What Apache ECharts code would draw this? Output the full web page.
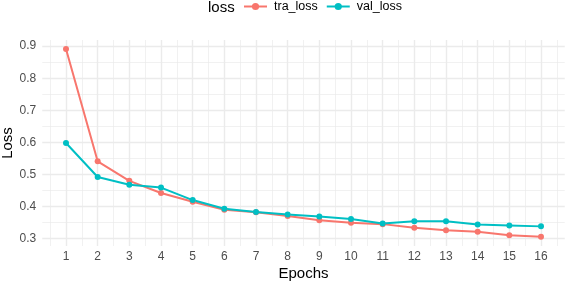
<!DOCTYPE html>
<html>
<head>
<meta charset="utf-8">
<script src="https://cdn.jsdelivr.net/npm/echarts@6/dist/echarts.min.js"></script>
<style>html,body{margin:0;padding:0;background:#fff}#c{width:565px;height:283px}</style>
</head>
<body>
<div id="c"></div>
<script>
var epochs = [1,2,3,4,5,6,7,8,9,10,11,12,13,14,15,16];
var traLoss = [0.891,0.541,0.480,0.442,0.415,0.390,0.382,0.370,0.357,0.349,0.345,0.334,0.326,0.321,0.310,0.306];
var valLoss = [0.598,0.492,0.468,0.459,0.420,0.393,0.383,0.375,0.369,0.361,0.347,0.354,0.354,0.344,0.341,0.338];
var xTicks = [1,2,3,4,5,6,7,8,9,10,11,12,13,14,15,16];
var xMinor = [0.5,1.5,2.5,3.5,4.5,5.5,6.5,7.5,8.5,9.5,10.5,11.5,12.5,13.5,14.5,15.5,16.5];
var yTicks = [0.3,0.4,0.5,0.6,0.7,0.8,0.9];
var yMinor = [0.35,0.45,0.55,0.65,0.75,0.85];

var FONT = 'Liberation Sans';
var grid = '#ebebeb';
function pairs(xs, ys){ return xs.map(function(x,i){ return [x, ys[i]]; }); }

var chart = echarts.init(document.getElementById('c'));
chart.setOption({
  animation: false,
  textStyle: {fontFamily: FONT},
  title: {text: 'loss', left: 208, top: 0, padding: 0, textStyle: {fontFamily: FONT, fontSize: 15, fontWeight: 'normal', color: '#000'}},
  legend: {
    left: 243, top: 0, padding: 0, itemWidth: 23, itemHeight: 9, itemGap: 8,
    textStyle: {fontFamily: FONT, fontSize: 12.5, color: '#000', padding: [0,0,0,2]},
    data: ['tra_loss','val_loss']
  },
  grid: {left: 42.25, right: 0.25, top: 40, bottom: 37, outerBoundsMode: 'none', containLabel: false},
  xAxis: [{
    type: 'value', min: 0.25, max: 16.75,
    name: 'Epochs', nameLocation: 'middle', nameGap: 20, nameMoveOverlap: false,
    nameTextStyle: {fontFamily: FONT, fontSize: 15, color: '#000'},
    axisLine: {show: false},
    axisTick: {show: false, customValues: xTicks},
    axisLabel: {customValues: xTicks, fontFamily: FONT, fontSize: 12, color: '#4d4d4d', margin: 5},
    splitLine: {show: true, lineStyle: {color: grid, width: 1.4}}
  },{
    type: 'value', min: 0.25, max: 16.75, position: 'bottom',
    axisLine: {show: false}, axisLabel: {show: false},
    axisTick: {show: false, customValues: xMinor},
    splitLine: {show: true, lineStyle: {color: grid, width: 0.7}}
  }],
  yAxis: [{
    type: 'value', min: 0.2768, max: 0.9192,
    name: 'Loss', nameLocation: 'middle', nameGap: 27, nameMoveOverlap: false,
    nameTextStyle: {fontFamily: FONT, fontSize: 15, color: '#000'},
    axisLine: {show: false},
    axisTick: {show: false, customValues: yTicks},
    axisLabel: {customValues: yTicks, fontFamily: FONT, fontSize: 12, color: '#4d4d4d', margin: 6,
      formatter: function(v){ return v.toFixed(1); }},
    splitLine: {show: true, lineStyle: {color: grid, width: 1.4}}
  },{
    type: 'value', min: 0.2768, max: 0.9192,
    axisLine: {show: false}, axisLabel: {show: false},
    axisTick: {show: false, customValues: yMinor},
    splitLine: {show: true, lineStyle: {color: grid, width: 0.7}}
  }],
  series: [{
    name: 'tra_loss', type: 'line', data: pairs(epochs, traLoss),
    symbol: 'circle', symbolSize: 6, showAllSymbol: true,
    lineStyle: {color: '#F8766D', width: 2}, itemStyle: {color: '#F8766D'}
  },{
    name: 'val_loss', type: 'line', data: pairs(epochs, valLoss),
    symbol: 'circle', symbolSize: 6, showAllSymbol: true,
    lineStyle: {color: '#00BFC4', width: 2}, itemStyle: {color: '#00BFC4'}
  }]
});
</script>
</body>
</html>
